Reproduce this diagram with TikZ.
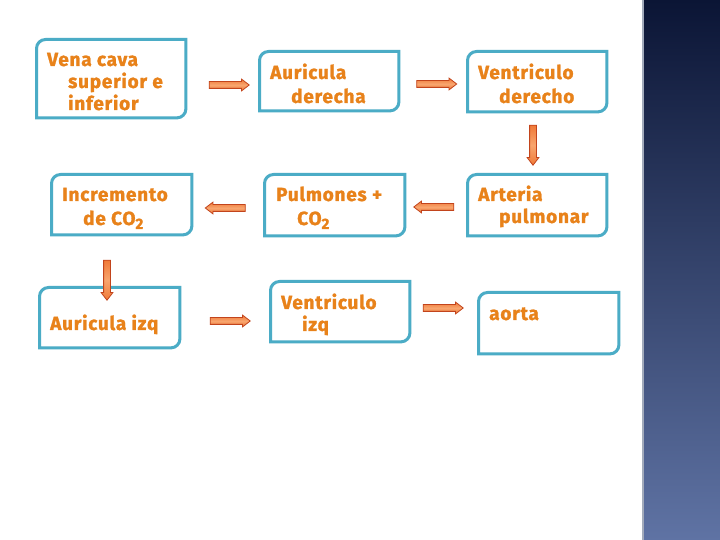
\documentclass[tikz,border=0pt]{standalone}
\usepackage{fontspec}
\setmainfont{Fira Sans}
\newfontfamily\boxfont{Fira Sans}[LetterSpace=4, BoldFeatures={FakeBold=1.4}]
\usetikzlibrary{shapes.arrows,calc}
\definecolor{boxline}{HTML}{4BACC6}
\definecolor{txtor}{HTML}{E8821A}
\definecolor{arrfill}{HTML}{F07A38}
\definecolor{arrlight}{HTML}{F8A56E}
\definecolor{arrdraw}{HTML}{C2441C}
\definecolor{paneltop}{HTML}{0B1535}
\definecolor{panelbot}{HTML}{5F73A4}
\definecolor{paneledge}{HTML}{A3ABBB}
\tikzset{
  boxnode/.style={draw=none, inner sep=0pt, anchor=north west},
  boxedge/.style={draw=boxline, line width=3pt},
  txt/.style={inner sep=0pt, anchor=base west, text=txtor, font=\boxfont\fontsize{19}{22}\selectfont\bfseries},
  blockarrow/.style={single arrow, draw=arrdraw, line width=0.8pt,
    top color=arrfill, bottom color=arrfill, middle color=arrlight,
    minimum height=40pt, inner xsep=0pt, inner ysep=3pt,
    single arrow head extend=2.5pt, single arrow tip angle=75}
}
\newcommand{\cotwo}{CO\raisebox{-4pt}{\fontsize{15}{15}\selectfont 2}}
\newcommand{\mybox}[5]{% name, x1, ytop, x2, ybot (y pixel coords downward)
  \node[boxnode, minimum width={#4-#2}, minimum height={#5-#3}] (#1) at (#2,{540-#3}) {};
  \draw[boxedge] ([xshift=1.5pt,yshift=1.5pt]#1.south west) --
    ([xshift=1.5pt,yshift=-10.5pt]#1.north west) arc[start angle=180,end angle=90,radius=9pt] --
    ([xshift=-1.5pt,yshift=-1.5pt]#1.north east) --
    ([xshift=-1.5pt,yshift=10.5pt]#1.south east) arc[start angle=0,end angle=-90,radius=9pt] -- cycle;
}
\begin{document}
\begin{tikzpicture}[x=1pt,y=1pt]
\useasboundingbox (0,0) rectangle (720,540);
\fill[white] (0,0) rectangle (720,540);
% right panel
\shade[top color=paneltop, bottom color=panelbot] (643,0) rectangle (720,540);
\fill[paneledge] (641.5,0) rectangle (643.5,540);

% boxes
\mybox{b1}{35}{38}{187}{119}
\mybox{b2}{258}{50}{400}{112}
\mybox{b3}{466}{50}{608}{113}
\mybox{b4}{50}{173}{193}{236}
\mybox{b5}{263}{173}{406}{237}
\mybox{b6}{466}{173}{608}{237}
\mybox{b7}{38}{286}{181}{349}
\mybox{b8}{269}{280}{411}{343}
\mybox{b9}{477}{291}{620}{355}

% texts
\node[txt] (t1a) at ([shift={(12,-28)}]b1.north west) {Vena cava};
\node[txt] (t1b) at ([shift={(21,-22)}]t1a.base west) {superior e};
\node[txt] (t1c) at ([shift={(0,-22)}]t1b.base west) {inferior};

\node[txt] (t2a) at ([shift={(12,-29)}]b2.north west) {Auricula};
\node[txt] (t2b) at ([shift={(21,-24)}]t2a.base west) {derecha};

\node[txt] (t3a) at ([shift={(12,-29)}]b3.north west) {Ventriculo};
\node[txt] (t3b) at ([shift={(21,-24)}]t3a.base west) {derecho};

\node[txt] (t4a) at ([shift={(12,-28)}]b4.north west) {Incremento};
\node[txt] (t4b) at ([shift={(21,-24)}]t4a.base west) {de \cotwo};

\node[txt] (t5a) at ([shift={(13,-28)}]b5.north west) {Pulmones +};
\node[txt] (t5b) at ([shift={(21,-24)}]t5a.base west) {\cotwo};

\node[txt] (t6a) at ([shift={(12,-28)}]b6.north west) {Arteria};
\node[txt] (t6b) at ([shift={(21,-22)}]t6a.base west) {pulmonar};

\node[txt] (t7a) at ([shift={(12,-44)}]b7.north west) {Auricula izq};

\node[txt] (t8a) at ([shift={(12,-29)}]b8.north west) {Ventriculo};
\node[txt] (t8b) at ([shift={(21,-22)}]t8a.base west) {izq};

\node[txt] (t9a) at ([shift={(12,-29)}]b9.north west) {aorta};

% block arrows
\node[blockarrow] (a1) at (227,455) {};
\node[blockarrow] (a2) at (434.5,456) {};
\node[blockarrow, rotate=-90] (a3) at (533,397) {};
\node[blockarrow, rotate=180] (a4) at (436,333) {};
\node[blockarrow, rotate=180] (a5) at (227.5,332) {};
\node[blockarrow, rotate=-90] (a6) at (107,262) {};
\node[blockarrow] (a7) at (228,219) {};
\node[blockarrow] (a8) at (441,232) {};
\end{tikzpicture}
\end{document}
